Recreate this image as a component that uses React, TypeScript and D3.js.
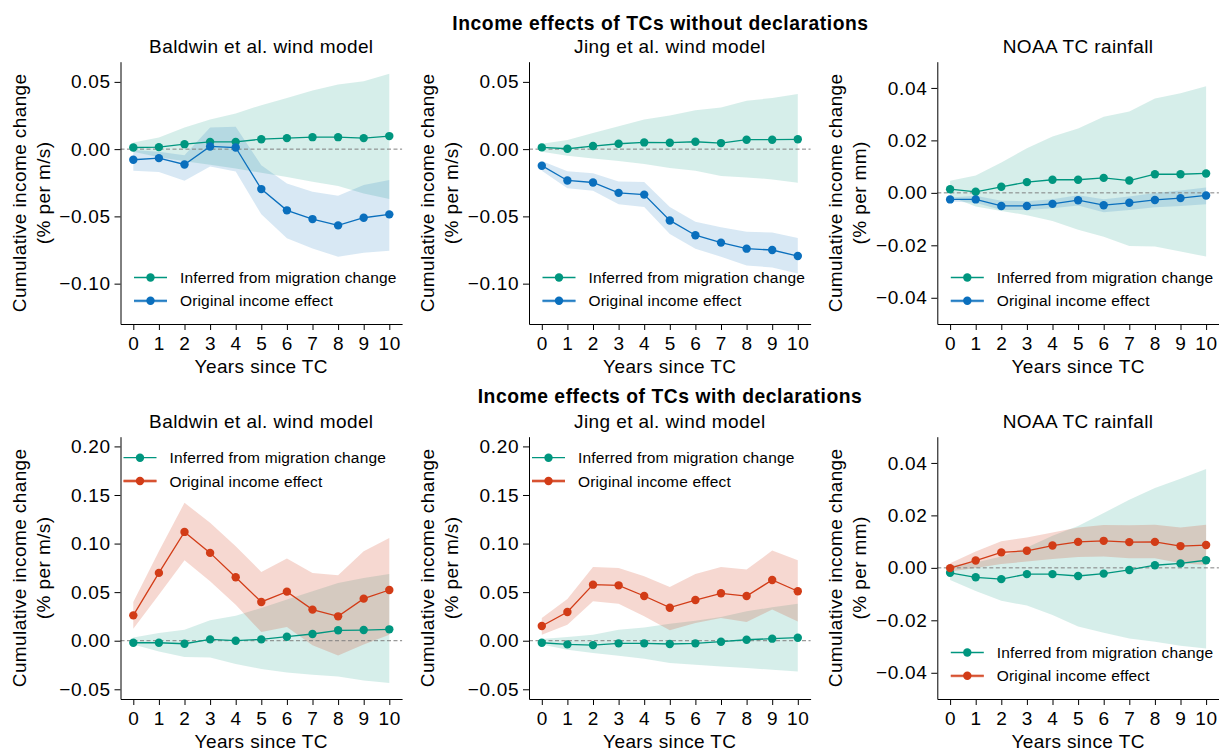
import React, { useEffect, useRef } from "react";
import * as d3 from "d3";

const years = [0, 1, 2, 3, 4, 5, 6, 7, 8, 9, 10];

// TCs without declarations: Baldwin et al. wind model
const bwNoMig = [0.0012, 0.0015, 0.0037, 0.0054, 0.0054, 0.0074, 0.0082, 0.0089, 0.0089, 0.0082, 0.0097];
const bwNoMigHi = [0.005, 0.0087, 0.016, 0.022, 0.0265, 0.0327, 0.038, 0.0436, 0.048, 0.0505, 0.056];
const bwNoMigLo = [-0.002, -0.006, -0.009, -0.0116, -0.0144, -0.0176, -0.0208, -0.0243, -0.0275, -0.033, -0.037];
const bwNoInc = [-0.0079, -0.0067, -0.0114, 0.002, 0.0012, -0.0297, -0.0455, -0.052, -0.0567, -0.051, -0.0485];
const bwNoIncHi = [-0.0007, -0.002, -0.0045, 0.016, 0.0166, -0.012, -0.0255, -0.0317, -0.0347, -0.0267, -0.023];
const bwNoIncLo = [-0.016, -0.017, -0.0235, -0.013, -0.0166, -0.0485, -0.0663, -0.0738, -0.08, -0.077, -0.0755];

// TCs without declarations: Jing et al. wind model
const jgNoMig = [0.0013, 0.0003, 0.0023, 0.004, 0.005, 0.0048, 0.0055, 0.0045, 0.007, 0.007, 0.0073];
const jgNoMigHi = [0.004, 0.0068, 0.012, 0.017, 0.022, 0.025, 0.029, 0.031, 0.036, 0.038, 0.041];
const jgNoMigLo = [-0.002, -0.005, -0.007, -0.0088, -0.011, -0.014, -0.016, -0.02, -0.021, -0.0225, -0.025];
const jgNoInc = [-0.0123, -0.0233, -0.0248, -0.0325, -0.0338, -0.053, -0.064, -0.0695, -0.074, -0.075, -0.0795];
const jgNoIncHi = [-0.0088, -0.0165, -0.018, -0.024, -0.0245, -0.043, -0.054, -0.058, -0.0615, -0.062, -0.066];
const jgNoIncLo = [-0.016, -0.029, -0.031, -0.041, -0.043, -0.063, -0.074, -0.08, -0.0865, -0.088, -0.0925];

// TCs without declarations: NOAA TC rainfall
const nrNoMig = [0.0014, 0.0004, 0.0023, 0.0041, 0.005, 0.005, 0.0057, 0.0047, 0.0071, 0.0071, 0.0074];
const nrNoMigHi = [0.0046, 0.0066, 0.0116, 0.017, 0.0215, 0.0245, 0.029, 0.031, 0.036, 0.038, 0.0406];
const nrNoMigLo = [-0.0014, -0.0052, -0.0069, -0.0085, -0.0107, -0.0141, -0.0167, -0.0203, -0.0205, -0.0224, -0.0243];
const nrNoInc = [-0.0025, -0.0025, -0.005, -0.005, -0.0042, -0.0028, -0.0047, -0.0038, -0.0027, -0.002, -0.001];
const nrNoIncHi = [-0.0018, -0.0011, -0.003, -0.0032, -0.0024, -0.0009, -0.0024, -0.0014, -0.0001, 0.0009, 0.002];
const nrNoIncLo = [-0.0033, -0.0038, -0.0065, -0.0065, -0.0059, -0.0048, -0.0074, -0.0065, -0.0055, -0.005, -0.0043];

// TCs with declarations: Baldwin et al. wind model
const bwDecMig = [-0.0021, -0.0021, -0.0031, 0.0014, 0, 0.0014, 0.0041, 0.0069, 0.0107, 0.011, 0.0117];
const bwDecMigHi = [0.0034, 0.0079, 0.0113, 0.021, 0.0258, 0.0337, 0.0423, 0.051, 0.0594, 0.0646, 0.0687];
const bwDecMigLo = [-0.004, -0.011, -0.0168, -0.0172, -0.024, -0.029, -0.0326, -0.035, -0.0368, -0.041, -0.0436];
const bwDecInc = [0.0261, 0.0698, 0.112, 0.0904, 0.0653, 0.0399, 0.0505, 0.032, 0.0251, 0.0433, 0.0522];
const bwDecIncHi = [0.0399, 0.092, 0.142, 0.1213, 0.0972, 0.0708, 0.0845, 0.0698, 0.0673, 0.092, 0.1058];
const bwDecIncLo = [0.0124, 0.0474, 0.0828, 0.0612, 0.0371, 0.0089, 0.0141, -0.0048, -0.0151, -0.004, 0.0062];

// TCs with declarations: Jing et al. wind model
const jgDecMig = [-0.0021, -0.0038, -0.0045, -0.0027, -0.0027, -0.0034, -0.0027, -0.001, 0.001, 0.0021, 0.0031];
const jgDecMigHi = [0.0017, 0.0038, 0.0062, 0.0113, 0.0137, 0.0175, 0.0206, 0.0244, 0.0302, 0.0344, 0.0381];
const jgDecMigLo = [-0.004, -0.0093, -0.0127, -0.0155, -0.0186, -0.023, -0.0247, -0.0265, -0.0282, -0.0299, -0.0316];
const jgDecInc = [0.0151, 0.0296, 0.0577, 0.057, 0.046, 0.034, 0.0419, 0.0488, 0.046, 0.0625, 0.0509];
const jgDecIncHi = [0.0234, 0.043, 0.076, 0.0749, 0.0663, 0.0553, 0.0687, 0.076, 0.0732, 0.0928, 0.0828];
const jgDecIncLo = [0.0062, 0.0165, 0.0405, 0.0381, 0.0251, 0.0107, 0.0182, 0.0234, 0.0192, 0.032, 0.0199];

// TCs with declarations: NOAA TC rainfall
const nrDecMig = [-0.0019, -0.0036, -0.0043, -0.0024, -0.0024, -0.0031, -0.0022, -0.0008, 0.001, 0.0017, 0.0029];
const nrDecMigHi = [0.0009, 0.002, 0.0043, 0.0078, 0.0122, 0.016, 0.0209, 0.026, 0.0304, 0.034, 0.0377];
const nrDecMigLo = [-0.0046, -0.0088, -0.0125, -0.0144, -0.018, -0.0224, -0.0247, -0.0269, -0.0282, -0.0297, -0.0307];
const nrDecInc = [-0.0001, 0.0028, 0.0059, 0.0065, 0.0085, 0.0099, 0.0103, 0.0098, 0.0099, 0.0083, 0.0087];
const nrDecIncHi = [0.0018, 0.0062, 0.0101, 0.0116, 0.0135, 0.0154, 0.0163, 0.0162, 0.0164, 0.0154, 0.0164];
const nrDecIncLo = [-0.0014, -0.0001, 0.0015, 0.0024, 0.0034, 0.0041, 0.0043, 0.0037, 0.0037, 0.0018, 0.0011];

const windTicks = [-0.1, -0.05, 0, 0.05];
const windDecTicks = [-0.05, 0, 0.05, 0.1, 0.15, 0.2];
const rainTicks = [-0.04, -0.02, 0, 0.02, 0.04];

const rowTitles = ["Income effects of TCs without declarations", "Income effects of TCs with declarations"];
const seriesNames = ["Inferred from migration change", "Original income effect"];

const TEAL = "#00967f";
const BLUE = "#0a6fbd";
const RED = "#d23c17";
const FONT = "'Liberation Sans', Arial, Helvetica, sans-serif";

const panels = [
  { row: 0, col: 0, title: "Baldwin et al. wind model", unit: "(% per m/s)", domain: [-0.13, 0.065], ticks: windTicks, color: BLUE, legend: "low",
    mig: bwNoMig, migLo: bwNoMigLo, migHi: bwNoMigHi, inc: bwNoInc, incLo: bwNoIncLo, incHi: bwNoIncHi },
  { row: 0, col: 1, title: "Jing et al. wind model", unit: "(% per m/s)", domain: [-0.13, 0.065], ticks: windTicks, color: BLUE, legend: "low",
    mig: jgNoMig, migLo: jgNoMigLo, migHi: jgNoMigHi, inc: jgNoInc, incLo: jgNoIncLo, incHi: jgNoIncHi },
  { row: 0, col: 2, title: "NOAA TC rainfall", unit: "(% per mm)", domain: [-0.05, 0.05], ticks: rainTicks, color: BLUE, legend: "low",
    mig: nrNoMig, migLo: nrNoMigLo, migHi: nrNoMigHi, inc: nrNoInc, incLo: nrNoIncLo, incHi: nrNoIncHi },
  { row: 1, col: 0, title: "Baldwin et al. wind model", unit: "(% per m/s)", domain: [-0.06, 0.21], ticks: windDecTicks, color: RED, legend: "high",
    mig: bwDecMig, migLo: bwDecMigLo, migHi: bwDecMigHi, inc: bwDecInc, incLo: bwDecIncLo, incHi: bwDecIncHi },
  { row: 1, col: 1, title: "Jing et al. wind model", unit: "(% per m/s)", domain: [-0.06, 0.21], ticks: windDecTicks, color: RED, legend: "high",
    mig: jgDecMig, migLo: jgDecMigLo, migHi: jgDecMigHi, inc: jgDecInc, incLo: jgDecIncLo, incHi: jgDecIncHi },
  { row: 1, col: 2, title: "NOAA TC rainfall", unit: "(% per mm)", domain: [-0.05, 0.05], ticks: rainTicks, color: RED, legend: "low",
    mig: nrDecMig, migLo: nrDecMigLo, migHi: nrDecMigHi, inc: nrDecInc, incLo: nrDecIncLo, incHi: nrDecIncHi },
];

const colLeft = [120.5, 529, 937.3];
const rowTop = [61.7, 436.7];
const W = 281.6;
const H = 262.3;

export default function App() {
  const svgRef = useRef<SVGSVGElement>(null);

  useEffect(() => {
    const svg = d3.select(svgRef.current);
    svg.selectAll("*").remove();
    svg.attr("font-family", FONT);

    // Row titles
    svg.append("text").attr("x", 660.5).attr("y", 30).attr("text-anchor", "middle")
      .attr("font-size", 19.3).attr("font-weight", "bold").attr("letter-spacing", 0.55).text(rowTitles[0]);
    svg.append("text").attr("x", 670).attr("y", 403).attr("text-anchor", "middle")
      .attr("font-size", 19.3).attr("font-weight", "bold").attr("letter-spacing", 0.55).text(rowTitles[1]);

    panels.forEach((p) => {
      const x0 = colLeft[p.col];
      const y0 = rowTop[p.row];
      const x = d3.scaleLinear().domain([-0.5, 10.5]).range([x0, x0 + W]);
      const y = d3.scaleLinear().domain(p.domain).range([y0 + H, y0]);
      const g = svg.append("g");

      const band = (lo: number[]) =>
        d3.area<number>().x((_, i) => x(years[i])).y0((_, i) => y(lo[i])).y1((d) => y(d));
      const line = d3.line<number>().x((_, i) => x(years[i])).y((d) => y(d));

      // confidence bands
      g.append("path").datum(p.migHi).attr("d", band(p.migLo)).attr("fill", TEAL).attr("fill-opacity", 0.16);
      g.append("path").datum(p.incHi).attr("d", band(p.incLo)).attr("fill", p.color).attr("fill-opacity", p.color === RED ? 0.2 : 0.16);

      // zero reference
      g.append("line").attr("x1", x0).attr("x2", x0 + W).attr("y1", y(0)).attr("y2", y(0))
        .attr("stroke", "#808080").attr("stroke-width", 1).attr("stroke-dasharray", "4,2.5");

      // series lines + markers
      const series = [
        { vals: p.mig, color: TEAL },
        { vals: p.inc, color: p.color },
      ];
      series.forEach((s) => {
        g.append("path").datum(s.vals).attr("d", line).attr("fill", "none")
          .attr("stroke", s.color).attr("stroke-width", 1.3);
        g.selectAll(null).data(s.vals).enter().append("circle")
          .attr("cx", (_, i) => x(years[i])).attr("cy", (d) => y(d)).attr("r", 4.2).attr("fill", s.color);
      });

      // axes
      const xa = g.append("g").attr("transform", `translate(0,${y0 + H})`)
        .call(d3.axisBottom(x).tickValues(years).tickFormat(d3.format("d")).tickSize(6).tickPadding(6.5).tickSizeOuter(0));
      const ya = g.append("g").attr("transform", `translate(${x0},0)`)
        .call(d3.axisLeft(y).tickValues(p.ticks).tickFormat(d3.format(".2f")).tickSize(6).tickPadding(3.8).tickSizeOuter(0));
      [xa, ya].forEach((a) => {
        a.attr("font-size", 19).attr("font-family", FONT);
        a.selectAll("text").attr("fill", "#000").attr("letter-spacing", 0.7);
        a.selectAll("line").attr("stroke", "#000");
        a.select(".domain").attr("stroke", "#000");
      });

      // titles and labels
      g.append("text").attr("x", x0 + W / 2).attr("y", y0 - 8.4).attr("text-anchor", "middle")
        .attr("font-size", 19).attr("letter-spacing", 0.4).text(p.title);
      g.append("text").attr("x", x0 + W / 2).attr("y", y0 + H + 49).attr("text-anchor", "middle")
        .attr("font-size", 19).attr("letter-spacing", 0.4).text("Years since TC");
      const cy = y0 + H / 2;
      g.append("text").attr("transform", `translate(${x0 - 95},${cy}) rotate(-90)`).attr("text-anchor", "middle")
        .attr("font-size", 19).attr("letter-spacing", 0.4).text("Cumulative income change");
      g.append("text").attr("transform", `translate(${x0 - 71},${cy}) rotate(-90)`).attr("text-anchor", "middle")
        .attr("font-size", 19).attr("letter-spacing", 0.4).text(p.unit);

      // legend
      const lx = x0 + (p.legend === "high" ? 3 : 13.5);
      const ly = y0 + (p.legend === "high" ? 21 : 215.8);
      const leg = g.append("g").attr("transform", `translate(${lx},${ly})`);
      [TEAL, p.color].forEach((c, i) => {
        const row = leg.append("g").attr("transform", `translate(0,${i * 23.3})`);
        if (i === 1) {
          row.append("line").attr("x1", 0).attr("x2", 33).attr("stroke", c).attr("stroke-width", 2.8).attr("stroke-opacity", 0.55);
        }
        row.append("line").attr("x1", 0).attr("x2", 33).attr("stroke", c).attr("stroke-width", 1.3);
        row.append("circle").attr("cx", 16.5).attr("r", 4.2).attr("fill", c);
        row.append("text").attr("x", 46).attr("y", 5.5).attr("font-size", 15.5).attr("letter-spacing", 0.15).text(seriesNames[i]);
      });
    });
  }, []);

  return (
    <svg ref={svgRef} width={1219} height={752}
      style={{ position: "absolute", left: 0, top: 0, background: "#fff" }} />
  );
}
